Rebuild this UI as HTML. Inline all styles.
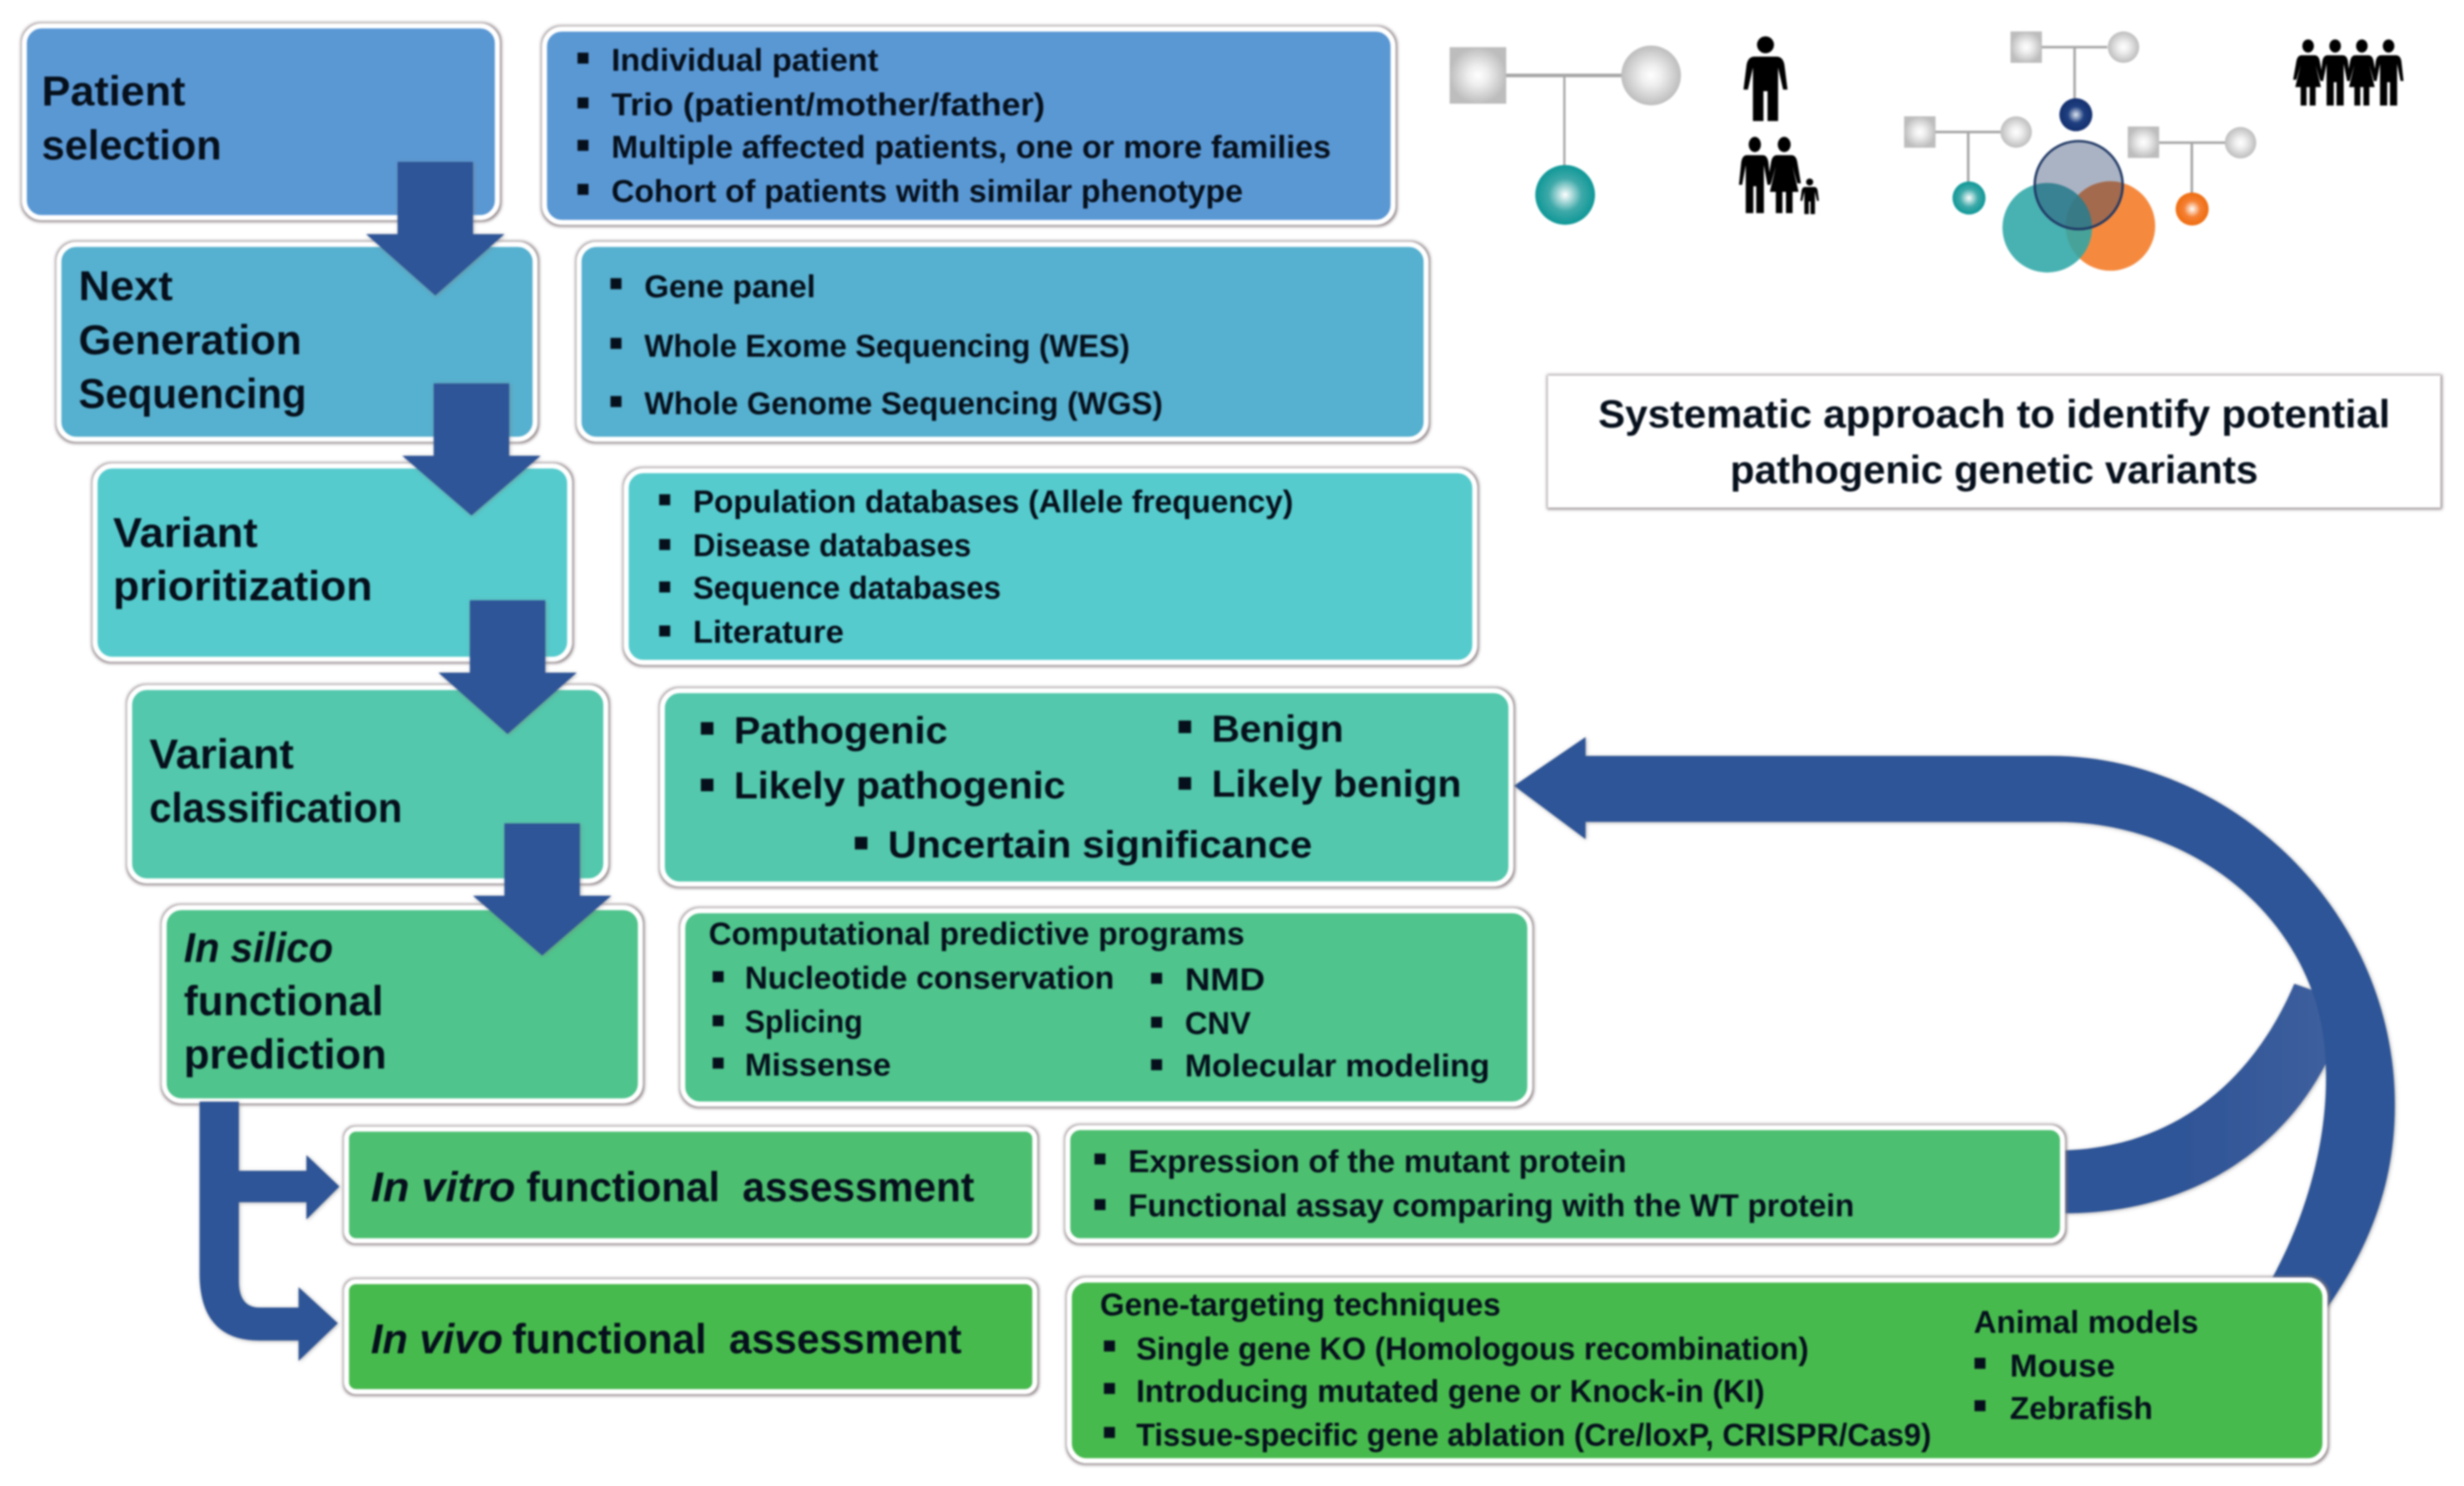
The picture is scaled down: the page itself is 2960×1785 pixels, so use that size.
<!DOCTYPE html>
<html><head><meta charset="utf-8"><title>Systematic approach to identify potential pathogenic genetic variants</title>
<style>
html,body{margin:0;padding:0;background:#fff;width:2960px;height:1785px;overflow:hidden}
svg{display:block;filter:blur(1.1px)}
text{font-family:"Liberation Sans",sans-serif;font-weight:bold;fill:#06101c}
.b{font-size:26.5px}.i{font-style:italic}.l{font-size:20px}.m{font-size:24px}.t{font-size:25px}
.box{stroke:#fff;stroke-width:3.2;filter:url(#sh)}
.arrow{fill:#2f5597}
.bu{fill:#06101c}
.pl{stroke:#a6a6a6;fill:none}
</style></head><body>
<svg xmlns="http://www.w3.org/2000/svg" width="2960" height="1785" viewBox="0 0 1568 945.57" preserveAspectRatio="none">
<defs>
<filter id="sh" x="-5%" y="-10%" width="110%" height="120%">
<feMorphology in="SourceAlpha" operator="dilate" radius="0.9" result="d"/>
<feGaussianBlur in="d" stdDeviation="1" result="bl"/>
<feFlood flood-color="#85787c" flood-opacity="0.95"/>
<feComposite in2="bl" operator="in" result="s"/>
<feOffset in="s" dx="0.3" dy="0.3" result="so"/>
<feMerge><feMergeNode in="so"/><feMergeNode in="SourceGraphic"/></feMerge>
</filter>
<filter id="sa" x="-5%" y="-5%" width="110%" height="110%"><feDropShadow dx="0.5" dy="0.5" stdDeviation="1.2" flood-color="#777" flood-opacity="0.6"/></filter>
<linearGradient id="br" gradientUnits="userSpaceOnUse" x1="1390" y1="0" x2="1475" y2="0"><stop offset="0" stop-color="#2f5597"/><stop offset="1" stop-color="#3d5e9d"/></linearGradient>
<radialGradient id="gg"><stop offset="0" stop-color="#fff"/><stop offset="0.35" stop-color="#eee"/><stop offset="1" stop-color="#bdbdbd"/></radialGradient>
<radialGradient id="gt"><stop offset="0" stop-color="#fff"/><stop offset="0.55" stop-color="#3fa9a9"/><stop offset="1" stop-color="#0e9797"/></radialGradient>
<radialGradient id="gn"><stop offset="0" stop-color="#dfe6f0"/><stop offset="0.5" stop-color="#1f3f80"/><stop offset="1" stop-color="#14306f"/></radialGradient>
<radialGradient id="go"><stop offset="0" stop-color="#fff"/><stop offset="0.5" stop-color="#f58033"/><stop offset="1" stop-color="#ee6c0f"/></radialGradient>
<g id="man"><circle cx="0" cy="5.5" r="5.4"/><path d="M-7 13H7Q11 13 12 18L14 34H11.2L8 20V54H1.3V35H-1.3V54H-8V20L-11.2 34H-14L-12 18Q-11 13-7 13Z"/></g>
<g id="wom"><circle cx="0" cy="5.5" r="5.4"/><path d="M-6 13H6Q10 13 11 18L14 33H11L7 21L12 39H7V54H1.5V39H-1.5V54H-7V39H-12L-7 21L-11 33H-14L-11 18Q-10 13-6 13Z"/></g>
</defs>
<rect width="1568" height="946" fill="#fff"/>

<!-- curved feedback arrow -->
<g filter="url(#sa)">
<path d="M1314 732C1380 730 1432 692 1460 626L1500 640V690L1480 677C1450 735 1390 772 1314 772Z" fill="url(#br)"/>
<path class="arrow" d="M963.500 500L1009 469V481H1305C1420 481 1524 580 1524 703C1524 750 1510 790 1481 832L1445 815C1470 770 1482 720 1480 677C1478 590 1400 523 1309 523H1009V534Z"/>
</g>

<!-- left boxes -->
<rect class="box" x="15.500" y="16.500" width="301" height="122" rx="11" fill="#5a98d4"/>
<rect class="box" x="37.500" y="155.500" width="303" height="124" rx="11" fill="#57b0cf"/>
<rect class="box" x="60.500" y="296.500" width="302" height="123" rx="11" fill="#55cbcd"/>
<rect class="box" x="82.500" y="437.500" width="303" height="123" rx="11" fill="#52c8ac"/>
<rect class="box" x="104.500" y="577.500" width="303" height="123" rx="11" fill="#4fc48c"/>
<!-- right boxes -->
<rect class="box" x="346.500" y="18.500" width="540" height="123" rx="11" fill="#5a98d4"/>
<rect class="box" x="368.500" y="155.500" width="539" height="124" rx="11" fill="#57b0cf"/>
<rect class="box" x="398.500" y="299.500" width="540" height="122" rx="11" fill="#55cbcd"/>
<rect class="box" x="421.500" y="439.500" width="540" height="123" rx="11" fill="#52c8ac"/>
<rect class="box" x="434.500" y="579.500" width="539" height="123" rx="11" fill="#4fc48c"/>
<rect class="box" x="220.500" y="718.500" width="438" height="71" rx="6" fill="#4dbf70"/>
<rect class="box" x="220.500" y="815.500" width="438" height="70" rx="6" fill="#46ba4e"/>
<rect class="box" x="679.500" y="717.500" width="633" height="72" rx="8" fill="#4dbf70"/>
<rect class="box" x="680.500" y="814.500" width="799" height="115" rx="11" fill="#46ba4e"/>

<!-- down arrows -->
<g filter="url(#sa)">
<path class="arrow" d="M253 103H301V149H321L277 188L233 149H253Z"/>
<path class="arrow" d="M276 244H324V290H344L300 328L256 290H276Z"/>
<path class="arrow" d="M299 382H347V428H367L323 467L279 428H299Z"/>
<path class="arrow" d="M321 524H369V570H389L345 608L301 570H321Z"/>
<path class="arrow" d="M127 701H152V745H195V735L216 755L195 776V765H152V815Q152 832 165 832H190V819L215 842L190 866V853H165Q127 853 127 810Z"/>
</g>

<!-- left labels -->
<text class="b" x="26.500" y="67" textLength="91.500" lengthAdjust="spacingAndGlyphs">Patient</text>
<text class="b" x="26.500" y="101.500" textLength="114.500" lengthAdjust="spacingAndGlyphs">selection</text>
<text class="b" x="50" y="191" textLength="60" lengthAdjust="spacingAndGlyphs">Next</text>
<text class="b" x="50" y="225.500" textLength="142" lengthAdjust="spacingAndGlyphs">Generation</text>
<text class="b" x="50" y="259.500" textLength="145" lengthAdjust="spacingAndGlyphs">Sequencing</text>
<text class="b" x="72" y="348" textLength="92" lengthAdjust="spacingAndGlyphs">Variant</text>
<text class="b" x="72" y="382" textLength="165" lengthAdjust="spacingAndGlyphs">prioritization</text>
<text class="b" x="95" y="489" textLength="92" lengthAdjust="spacingAndGlyphs">Variant</text>
<text class="b" x="95" y="523" textLength="161" lengthAdjust="spacingAndGlyphs">classification</text>
<text class="b i" x="117" y="612" textLength="95" lengthAdjust="spacingAndGlyphs">In silico</text>
<text class="b" x="117" y="646" textLength="127" lengthAdjust="spacingAndGlyphs">functional</text>
<text class="b" x="117" y="680" textLength="129" lengthAdjust="spacingAndGlyphs">prediction</text>
<text class="b i" x="236" y="764.500" textLength="92" lengthAdjust="spacingAndGlyphs">In vitro</text>
<text class="b" x="335" y="764.500" textLength="285" lengthAdjust="spacingAndGlyphs" xml:space="preserve">functional  assessment</text>
<text class="b i" x="236" y="861" textLength="84" lengthAdjust="spacingAndGlyphs">In vivo</text>
<text class="b" x="326" y="861" textLength="286" lengthAdjust="spacingAndGlyphs" xml:space="preserve">functional  assessment</text>

<!-- bullets -->
<g class="bu">
<rect x="367.500" y="33.500" width="7" height="7"/><rect x="367.500" y="62" width="7" height="7"/><rect x="367.500" y="89" width="7" height="7"/><rect x="367.500" y="117" width="7" height="7"/>
<rect x="388.500" y="177" width="7" height="7"/><rect x="388.500" y="215" width="7" height="7"/><rect x="388.500" y="252" width="7" height="7"/>
<rect x="419.500" y="314.500" width="7" height="7"/><rect x="419.500" y="343" width="7" height="7"/><rect x="419.500" y="370" width="7" height="7"/><rect x="419.500" y="398" width="7" height="7"/>
<rect x="446" y="459.500" width="8" height="8"/><rect x="446" y="495.500" width="8" height="8"/><rect x="750" y="458.500" width="8" height="8"/><rect x="750" y="494.500" width="8" height="8"/><rect x="544" y="532.500" width="8" height="8"/>
<rect x="453.500" y="618" width="7" height="7"/><rect x="453.500" y="646" width="7" height="7"/><rect x="453.500" y="673" width="7" height="7"/>
<rect x="732.500" y="619" width="7" height="7"/><rect x="732.500" y="647" width="7" height="7"/><rect x="732.500" y="674" width="7" height="7"/>
<rect x="696.500" y="734" width="7" height="7"/><rect x="696.500" y="763" width="7" height="7"/>
<rect x="702.500" y="853" width="7" height="7"/><rect x="702.500" y="880" width="7" height="7"/><rect x="702.500" y="908" width="7" height="7"/>
<rect x="1256.500" y="864" width="7" height="7"/><rect x="1256.500" y="891" width="7" height="7"/>
</g>

<!-- right lists -->
<text class="l" x="389" y="45" textLength="170" lengthAdjust="spacingAndGlyphs">Individual patient</text>
<text class="l" x="389" y="73.500" textLength="276" lengthAdjust="spacingAndGlyphs">Trio (patient/mother/father)</text>
<text class="l" x="389" y="100.500" textLength="458" lengthAdjust="spacingAndGlyphs">Multiple affected patients, one or more families</text>
<text class="l" x="389" y="128.500" textLength="402" lengthAdjust="spacingAndGlyphs">Cohort of patients with similar phenotype</text>
<text class="l" x="410" y="189" textLength="109" lengthAdjust="spacingAndGlyphs">Gene panel</text>
<text class="l" x="410" y="227" textLength="309" lengthAdjust="spacingAndGlyphs">Whole Exome Sequencing (WES)</text>
<text class="l" x="410" y="263.500" textLength="330" lengthAdjust="spacingAndGlyphs">Whole Genome Sequencing (WGS)</text>
<text class="l" x="441" y="326" textLength="382" lengthAdjust="spacingAndGlyphs">Population databases (Allele frequency)</text>
<text class="l" x="441" y="354" textLength="177" lengthAdjust="spacingAndGlyphs">Disease databases</text>
<text class="l" x="441" y="381" textLength="196" lengthAdjust="spacingAndGlyphs">Sequence databases</text>
<text class="l" x="441" y="409" textLength="96" lengthAdjust="spacingAndGlyphs">Literature</text>
<text class="m" x="467" y="473" textLength="136" lengthAdjust="spacingAndGlyphs">Pathogenic</text>
<text class="m" x="467" y="508" textLength="211" lengthAdjust="spacingAndGlyphs">Likely pathogenic</text>
<text class="m" x="771" y="472" textLength="84" lengthAdjust="spacingAndGlyphs">Benign</text>
<text class="m" x="771" y="507" textLength="159" lengthAdjust="spacingAndGlyphs">Likely benign</text>
<text class="m" x="565" y="545.500" textLength="270" lengthAdjust="spacingAndGlyphs">Uncertain significance</text>
<text class="l" x="451" y="601" textLength="341" lengthAdjust="spacingAndGlyphs">Computational predictive programs</text>
<text class="l" x="474" y="629" textLength="235" lengthAdjust="spacingAndGlyphs">Nucleotide conservation</text>
<text class="l" x="474" y="657" textLength="75" lengthAdjust="spacingAndGlyphs">Splicing</text>
<text class="l" x="474" y="684.500" textLength="93" lengthAdjust="spacingAndGlyphs">Missense</text>
<text class="l" x="754" y="630" textLength="51" lengthAdjust="spacingAndGlyphs">NMD</text>
<text class="l" x="754" y="658" textLength="42" lengthAdjust="spacingAndGlyphs">CNV</text>
<text class="l" x="754" y="685" textLength="194" lengthAdjust="spacingAndGlyphs">Molecular modeling</text>
<text class="l" x="718" y="746" textLength="317" lengthAdjust="spacingAndGlyphs">Expression of the mutant protein</text>
<text class="l" x="718" y="774" textLength="462" lengthAdjust="spacingAndGlyphs">Functional assay comparing with the WT protein</text>
<text class="l" x="700" y="837" textLength="255" lengthAdjust="spacingAndGlyphs">Gene-targeting techniques</text>
<text class="l" x="723" y="865" textLength="428" lengthAdjust="spacingAndGlyphs">Single gene KO (Homologous recombination)</text>
<text class="l" x="723" y="892" textLength="400" lengthAdjust="spacingAndGlyphs">Introducing mutated gene or Knock-in (KI)</text>
<text class="l" x="723" y="920" textLength="506" lengthAdjust="spacingAndGlyphs">Tissue-specific gene ablation (Cre/loxP, CRISPR/Cas9)</text>
<text class="l" x="1256" y="848" textLength="143" lengthAdjust="spacingAndGlyphs">Animal models</text>
<text class="l" x="1279" y="876" textLength="67" lengthAdjust="spacingAndGlyphs">Mouse</text>
<text class="l" x="1279" y="903" textLength="91" lengthAdjust="spacingAndGlyphs">Zebrafish</text>

<!-- title -->
<rect x="985" y="239" width="568" height="84" fill="#fff" filter="url(#sh)"/>
<text class="t" x="1017" y="272" textLength="504" lengthAdjust="spacingAndGlyphs">Systematic approach to identify potential</text>
<text class="t" x="1101" y="307.500" textLength="336" lengthAdjust="spacingAndGlyphs">pathogenic genetic variants</text>

<!-- pedigree: trio -->
<path class="pl" stroke-width="2.2" d="M958 48H1032"/><path class="pl" stroke-width="1.4" d="M995.500 48V106"/>
<rect x="922.500" y="30" width="36" height="36" fill="url(#gg)"/>
<circle cx="1050.700" cy="48" r="19" fill="url(#gg)"/>
<circle cx="996" cy="124" r="19" fill="url(#gt)"/>

<!-- pedigree: top -->
<path class="pl" stroke-width="1.6" d="M1299 30H1341M1320.200 30V63"/>
<rect x="1279.400" y="20" width="20" height="20" fill="url(#gg)"/>
<circle cx="1351.300" cy="30" r="10" fill="url(#gg)"/>
<circle cx="1321" cy="73" r="10.500" fill="url(#gn)"/>
<!-- pedigree: left -->
<path class="pl" stroke-width="1.6" d="M1231 84H1273M1252.500 84V116"/>
<rect x="1211.700" y="74" width="20" height="20" fill="url(#gg)"/>
<circle cx="1283" cy="84" r="10" fill="url(#gg)"/>
<circle cx="1253" cy="126" r="10.500" fill="url(#gt)"/>
<!-- pedigree: right -->
<path class="pl" stroke-width="1.6" d="M1374 90.800H1416M1394.800 90.800V123"/>
<rect x="1354" y="80.500" width="20" height="20" fill="url(#gg)"/>
<circle cx="1425.800" cy="90.800" r="10" fill="url(#gg)"/>
<circle cx="1395" cy="133" r="10.500" fill="url(#go)"/>
<!-- venn -->
<circle cx="1343" cy="143.800" r="28.500" fill="#f58a3f"/>
<circle cx="1302.800" cy="144.900" r="28.500" fill="#2fa6a6" fill-opacity="0.88"/>
<circle cx="1322.800" cy="117.800" r="28" fill="#203864" fill-opacity="0.38" stroke="#1f3864" stroke-width="1.500"/>

<!-- people -->
<use href="#man" transform="translate(1123.500 23)"/>
<use href="#man" transform="translate(1116.700 87) scale(.72 .9)"/>
<use href="#wom" transform="translate(1135.400 87) scale(.76 .9)"/>
<use href="#man" transform="translate(1151.600 113.500) scale(.42)"/>
<use href="#wom" transform="translate(1468.800 25) scale(.68 .78)"/>
<use href="#man" transform="translate(1486 25) scale(.68 .78)"/>
<use href="#wom" transform="translate(1503 25) scale(.68 .78)"/>
<use href="#man" transform="translate(1520 25) scale(.68 .78)"/>
</svg>
</body></html>
